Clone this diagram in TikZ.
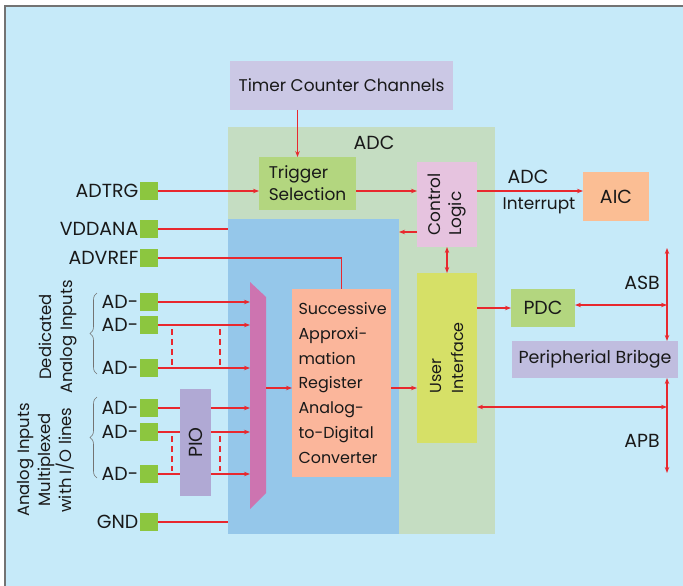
\documentclass[tikz,border=0pt]{standalone}
\usepackage{fontspec}
\setmainfont{Poppins}
\usetikzlibrary{positioning,arrows.meta,decorations.pathreplacing,calc}

\definecolor{bgblue}{RGB}{198,234,249}
\definecolor{adcgreen}{RGB}{197,221,194}
\definecolor{coreblue}{RGB}{149,199,234}
\definecolor{lavender}{RGB}{203,200,229}
\definecolor{leafgreen}{RGB}{179,214,127}
\definecolor{ctrlpink}{RGB}{230,195,223}
\definecolor{aicorange}{RGB}{251,190,148}
\definecolor{sarsalmon}{RGB}{251,182,155}
\definecolor{uiyellow}{RGB}{214,224,103}
\definecolor{bridgelav}{RGB}{192,189,223}
\definecolor{piopurple}{RGB}{176,169,212}
\definecolor{muxpink}{RGB}{205,116,176}
\definecolor{pingreen}{RGB}{140,198,63}
\definecolor{sigred}{RGB}{232,40,46}

\begin{document}
\begin{tikzpicture}[
          x=1bp, y=-1bp,
          font=\fontsize{17}{22}\selectfont,
          every node/.style={text=black!90},
          caps/.style={font=\fontsize{19}{22}\selectfont},
          blk/.style={inner sep=0pt, outer sep=0pt},
          pin/.style={fill=pingreen, minimum size=18bp, inner sep=0pt, outer sep=0pt},
          pinlbl/.style={caps, left=1.5bp of #1, inner sep=0pt},
          sig/.style={draw=sigred, line width=1.1bp},
          sigarr/.style={sig, -{Stealth[length=6bp,width=4.5bp]}},
          both/.style={sig, {Stealth[length=6bp,width=4.5bp]}-{Stealth[length=6bp,width=4.5bp]}},
          dsh/.style={sig, dash pattern=on 6bp off 4bp},
          grpbrace/.style={draw=black!55, line width=0.6bp, decorate, decoration={brace, amplitude=7bp}}
      ]
        \useasboundingbox (0,0) rectangle (683,586);
        % frame
        \fill[white] (0,0) rectangle (683,586);
        \fill[bgblue] (5,6) rectangle (683,586);
        \draw[black!55, line width=1.5bp] (5,586) -- (5,6) -- (683,6);

        % ADC block and analog core
        \fill[adcgreen] (228,127) rectangle (495,534);
        \node[caps] (adclbl) at (374,143) {ADC};
        \node[blk, fill=coreblue, minimum width=171bp, minimum height=315bp] (core) at (313.5,376.5) {};

        % blocks
        \node[blk, fill=lavender, minimum width=223bp, minimum height=49bp] (timer) at (341.5,85.5) {Timer Counter Channels};
        \node[blk, fill=leafgreen, minimum width=97bp, minimum height=53bp, align=left] (trig) at (307.5,183.5) {Trigger\\Selection};
        \node[blk, fill=ctrlpink, minimum width=60bp, minimum height=85bp] (ctrl) at (447,204.5) {};
        \node[rotate=90, align=left] (ctrltxt) at (ctrl.center) {Control\\Logic};
        \node[blk, caps, fill=aicorange, minimum width=66bp, minimum height=49bp] (aic) at (616,196.5) {AIC};
        \node[blk, fill=uiyellow, minimum width=60bp, minimum height=170bp] (ui) at (447,358) {};
        \node[rotate=90, align=left, font=\fontsize{16}{22}\selectfont] (uitxt) at (ui.center) {User\\Interface};
        \node[blk, caps, fill=leafgreen, minimum width=64bp, minimum height=38bp] (pdc) at (543,308) {PDC};
        \node[blk, fill=bridgelav, minimum width=166bp, minimum height=37bp, font=\fontsize{17.5}{22}\selectfont] (bridge) at (595,359.5) {Peripherial Bribge};
        \node[blk, fill=sarsalmon, minimum width=99bp, minimum height=188bp, text width=86bp, align=left,
              font=\fontsize{16}{25}\selectfont] (sar) at (341.5,383)
              {Successive\\Approxi-\\mation\\Register\\Analog-\\to-Digital\\Converter};

        % multiplexer
        \coordinate (muxtl) at (250,282);
        \coordinate (muxtr) at (266,297);
        \coordinate (muxbr) at (266,493);
        \coordinate (muxbl) at (250,509);
        \fill[muxpink] (muxtl) -- (muxtr) -- (muxbr) -- (muxbl) -- cycle;

        % pins
        \node[pin] (adtrg) at (149,191) {};
        \node[pin] (vdd) at (149,229) {};
        \node[pin] (vref) at (149,258) {};
        \node[pin] (ada) at (149,302) {};
        \node[pin] (adb) at (149,325) {};
        \node[pin] (adc) at (149,368) {};
        \node[pin] (add) at (149,408) {};
        \node[pin] (ade) at (149,432) {};
        \node[pin] (adf) at (149,474) {};
        \node[pin] (gnd) at (149,522) {};
        \node[pinlbl=adtrg] {ADTRG};
        \node[pinlbl=vdd] {VDDANA};
        \node[pinlbl=vref] {ADVREF};
        \foreach \p in {ada,adb,adc,add,ade,adf}
          \node[pinlbl=\p] {AD-};
        \node[pinlbl=gnd] {GND};

        % signals
        \draw[sigarr] ([xshift=-10bp]trig.north |- timer.south) -- ([xshift=-10bp]trig.north);
        \draw[sigarr] (adtrg.east) -- (trig.west |- adtrg);
        \draw[sigarr] (trig.east |- adtrg) -- (ctrl.west |- adtrg);
        \draw[sigarr] (ctrl.east |- adtrg) -- (aic.west |- adtrg);
        \node[caps] (irqa) at (528,177) {ADC};
        \node (irqb) at (539,206) {Interrupt};
        \draw[sigarr] (ctrl.west |- 0,232) -- (core.east |- 0,232);
        \draw[both] (ctrl.south) -- (ui.north);
        \draw[sig] (vdd.east) -- (core.west |- vdd);
        \draw[sig] (vref.east) -- (sar.north |- vref) -- (sar.north);
        \draw[sig] (gnd.east) -- (core.west |- gnd);
        \foreach \p in {ada,adb,adc,add,ade,adf}
          \draw[sigarr] (\p.east) -- (\p.east -| muxtl);
        \draw[dsh] ($(adb.east)+(14,4)$) -- ($(adc.east)+(14,-3)$);
        \draw[dsh] ($(adb.east)+(62,4)$) -- ($(adc.east)+(62,-3)$);
        \draw[dsh] ($(ade.east)+(14,4)$) -- ($(adf.east)+(14,-3)$);
        \draw[dsh] ($(ade.east)+(62,4)$) -- ($(adf.east)+(62,-3)$);
        \node[blk, fill=piopurple, minimum width=31bp, minimum height=107bp] (pio) at (195.5,442.5) {};
        \node[rotate=90, caps] (piotxt) at (pio.center) {PIO};
        \draw[sigarr] (muxtr |- 0,388) -- (sar.west |- 0,388);
        \draw[sigarr] (sar.east |- 0,388) -- (ui.west |- 0,388);

        % system buses
        \coordinate (asbtop) at (667,248);
        \coordinate (apbbot) at (667,473);
        \coordinate (apbtap) at (667,407);
        \draw[sigarr] (ui.east |- pdc) -- (pdc.west);
        \draw[both] ([yshift=3bp]pdc.east) -- ([yshift=3bp]pdc.east -| asbtop);
        \draw[both] (asbtop) -- (asbtop |- bridge.north);
        \draw[both] (bridge.south -| apbbot) -- (apbbot);
        \draw[both] (ui.east |- apbtap) -- (apbtap);
        \node[caps] (asb) at (642,283) {ASB};
        \node[caps] (apb) at (642,441) {APB};

        % input groups
        \draw[grpbrace] (97,374) -- (97,293);
        \draw[grpbrace] (97,478) -- (97,397);
        \node[rotate=90, align=center, font=\fontsize{16.5}{21}\selectfont] (dedlbl) at (58,337) {Dedicated\\Analog Inputs};
        \node[rotate=90, align=center, font=\fontsize{16.5}{21}\selectfont] (muxlbl) at (46,460) {Analog Inputs\\Multiplexed\\with I/O lines};
      \end{tikzpicture}
\end{document}
